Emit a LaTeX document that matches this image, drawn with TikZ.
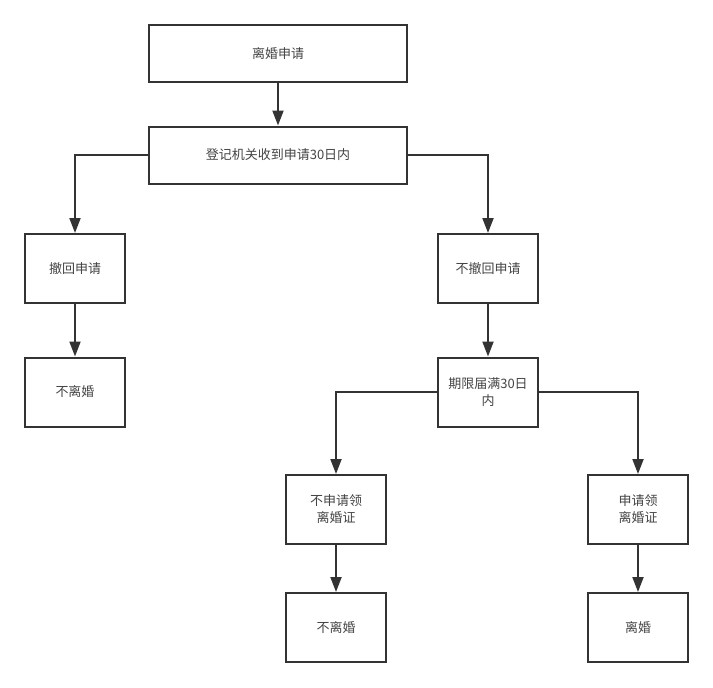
\documentclass[tikz,border=0pt]{standalone}
\usepackage{fontspec}
\newfontfamily\cjk{Noto Sans CJK SC}
\usetikzlibrary{arrows.meta}
\definecolor{ln}{HTML}{333333}
\definecolor{tx}{HTML}{444444}
\tikzset{
  box/.style={draw=ln, line width=2pt, fill=white, inner sep=0pt, font=\cjk\fontsize{13}{17}\selectfont, text=tx, align=center},
  conn/.style={draw=ln, line width=2pt, -{Triangle[width=11pt,length=15pt]}}
}
\begin{document}
\begin{tikzpicture}[x=1pt,y=-1pt]
\useasboundingbox (0,0) rectangle (713,688);
\node[box, minimum width=258pt, minimum height=57pt] (a) at (278,53.5) {离婚申请};
\node[box, minimum width=258pt, minimum height=57pt] (b) at (278,155) {登记机关收到申请30日内};
\node[box, minimum width=100pt, minimum height=69pt] (c) at (75,268.5) {撤回申请};
\node[box, minimum width=100pt, minimum height=69pt] (d) at (75,392) {不离婚};
\node[box, minimum width=100pt, minimum height=69pt] (e) at (488,268.5) {不撤回申请};
\node[box, minimum width=100pt, minimum height=69pt] (f) at (488,392) {期限届满30日\\内};
\node[box, minimum width=100pt, minimum height=69pt] (g) at (336,509.5) {不申请领\\离婚证};
\node[box, minimum width=100pt, minimum height=69pt] (h) at (336,627.5) {不离婚};
\node[box, minimum width=100pt, minimum height=69pt] (i) at (638,509.5) {申请领\\离婚证};
\node[box, minimum width=100pt, minimum height=69pt] (j) at (638,627.5) {离婚};
\draw[conn] (a) -- (b);
\draw[conn] (b.west) -| (c.north);
\draw[conn] (b.east) -| (e.north);
\draw[conn] (c) -- (d);
\draw[conn] (e) -- (f);
\draw[conn] (f.west) -| (g.north);
\draw[conn] (f.east) -| (i.north);
\draw[conn] (g) -- (h);
\draw[conn] (i) -- (j);
\end{tikzpicture}
\end{document}
